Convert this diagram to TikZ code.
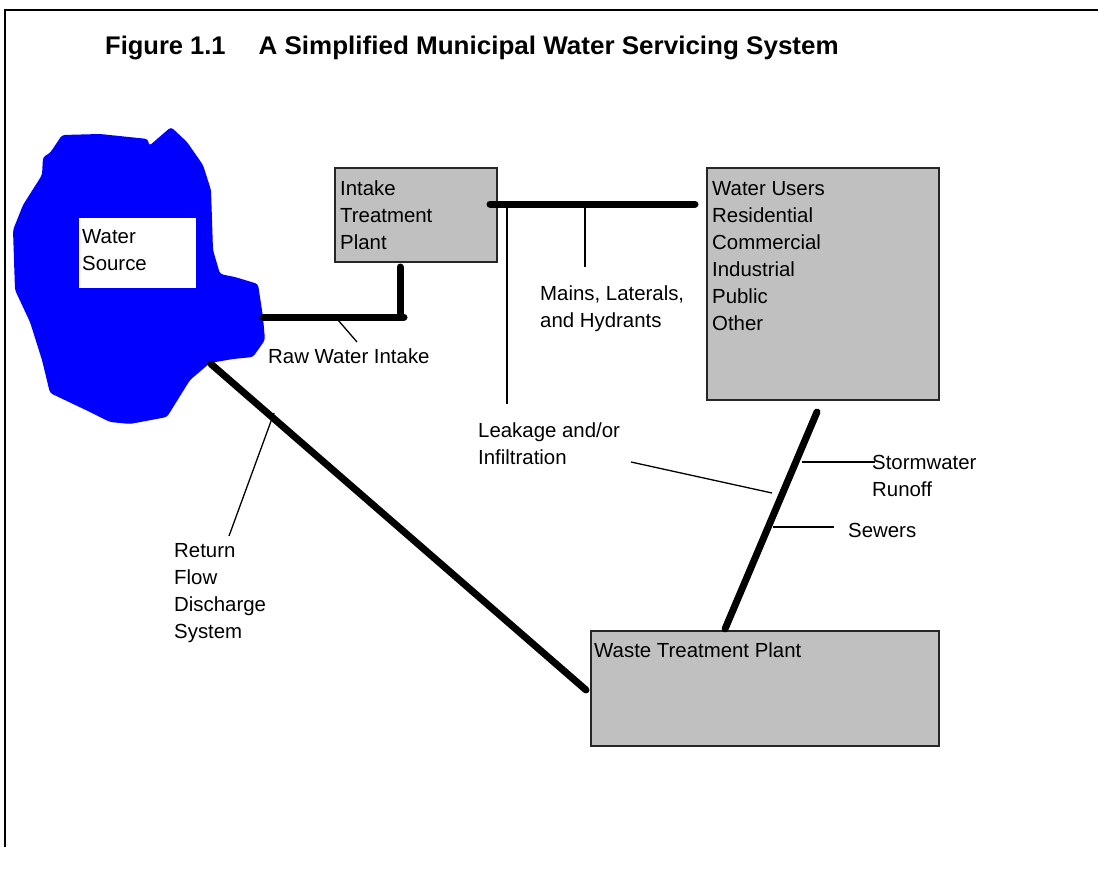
\documentclass[tikz,border=0pt]{standalone}
\usepackage{fontspec}
\setmainfont{Liberation Sans}
\usetikzlibrary{calc}
\newcommand\mlines[1]{\begin{tabular}[t]{@{}l@{}}#1\end{tabular}}
\definecolor{boxgray}{RGB}{192,192,192}
\definecolor{waterblue}{RGB}{0,0,255}
\begin{document}
\begin{tikzpicture}[x=1pt,y=-1pt,
  frame/.style={line width=1.6pt},
  box/.style={draw=black!85, line width=1.4pt, fill=boxgray, rectangle, inner sep=0pt},
  pipe/.style={line width=7pt, line cap=round, line join=round},
  lead/.style={line width=1.3pt},
  lbl/.style={anchor=base west, inner sep=0pt, font=\fontsize{20.4}{27}\selectfont},
  ]
\useasboundingbox (0,0) rectangle (1098,875);
% frame
\draw[frame] (5,847) -- (5,10) -- (1098,10);
% title
\node[anchor=base west, inner sep=0pt, font=\bfseries\fontsize{25.5}{30}\selectfont] (title) at (105,55)
  {Figure 1.1\hspace{33pt}\scalebox{1.02}[1]{A Simplified Municipal Water Servicing System}};
% water body
\fill[waterblue, rounded corners=3pt] (62,135) -- (100,134) -- (148,139) -- (149,146) -- (171,127)
  -- (187,142) -- (203,165) -- (211,190) -- (213,250) -- (220,274) -- (235,277) -- (258,284)
  -- (263,317) -- (265,340) -- (253,357) -- (233,359) -- (210,363) -- (190,380) -- (167,417)
  -- (130,424) -- (110,422) -- (90,412) -- (50,393) -- (42,360) -- (30,322) -- (15,290)
  -- (13,230) -- (23,205) -- (42,175) -- (43,157) -- (50,153) -- cycle;
\node[fill=white, inner sep=0pt, minimum width=117pt, minimum height=70pt] (srcbox) at (137.5,253) {};
\node[lbl] (src) at (82,243) {\mlines{Water\\Source}};
% boxes
\node[box, minimum width=162pt, minimum height=94pt] (itp) at (416,215) {};
\node[lbl] (itptext) at (340,195) {\mlines{Intake\\Treatment\\Plant}};
\node[box, minimum width=232pt, minimum height=232pt] (users) at (823,284) {};
\node[lbl] (userstext) at (712,195) {\mlines{Water Users\\Residential\\Commercial\\Industrial\\Public\\Other}};
\node[box, minimum width=348pt, minimum height=115pt] (wtp) at (765,688.5) {};
\node[lbl] (wtptext) at (594,657) {Waste Treatment Plant};
% coordinates
\coordinate (mainA) at (490,204);
\coordinate (mainB) at (695,204);
\coordinate (rawA) at (263,317);
\coordinate (rawB) at (404,317);
\coordinate (rawC) at (400,267);
\coordinate (rawD) at (400,317);
\coordinate (retA) at (211,364);
\coordinate (retB) at (586,690);
\coordinate (sewA) at (817,412);
\coordinate (sewB) at (725,629);
% pipes
\draw[pipe] (mainA) -- (mainB);
\draw[pipe] (rawA) -- (rawB);
\draw[pipe] (rawC) -- (rawD);
\draw[pipe] (retA) -- (retB);
\draw[pipe] (sewA) -- (sewB);
% labels
\node[lbl] (rawlbl) at (268,363) {Raw Water Intake};
\node[lbl] (mainslbl) at (540,300) {\mlines{Mains, Laterals,\\and Hydrants}};
\node[lbl] (leaklbl) at (478,437) {\mlines{Leakage and/or\\Infiltration}};
\node[lbl] (stormlbl) at (872,469) {\mlines{Stormwater\\Runoff}};
\node[lbl] (sewlbl) at (848,537) {Sewers};
\node[lbl] (retlbl) at (174,557) {\mlines{Return\\Flow\\Discharge\\System}};
% leader lines
\coordinate (l1a) at (507,204); \coordinate (l1b) at (507,404);
\coordinate (l2a) at (585,204); \coordinate (l2b) at (585,267);
\coordinate (l3a) at (338,320); \coordinate (l3b) at (357,342);
\coordinate (l4a) at (274,413); \coordinate (l4b) at (229,536);
\coordinate (l5a) at (631,462); \coordinate (l5b) at (772,493);
\coordinate (l6a) at (802,462); \coordinate (l6b) at (875,462);
\coordinate (l7a) at (773,527); \coordinate (l7b) at (834,527);
\draw[lead] (l1a) -- (l1b);
\draw[lead] (l2a) -- (l2b);
\draw[lead] (l3a) -- (l3b);
\draw[lead] (l4a) -- (l4b);
\draw[lead] (l5a) -- (l5b);
\draw[lead] (l6a) -- (l6b);
\draw[lead] (l7a) -- (l7b);
\end{tikzpicture}
\end{document}
